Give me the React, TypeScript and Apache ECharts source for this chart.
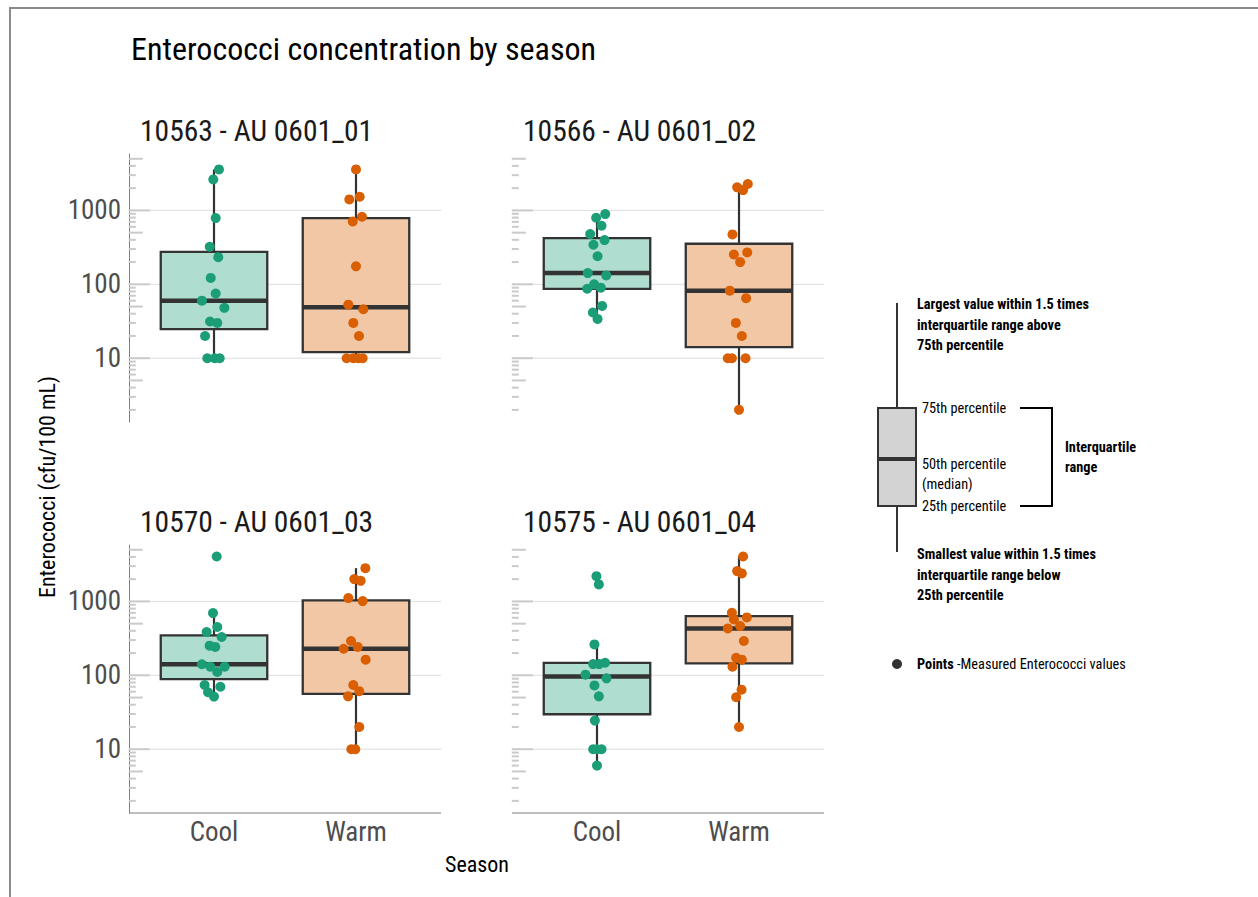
import React, { useEffect, useRef } from 'react';
import * as echarts from 'echarts';

const FONT = "'Roboto Condensed', 'Liberation Sans Narrow', 'DejaVu Sans Condensed', 'Roboto', sans-serif";

const seasons = ['Cool', 'Warm'];
const siteTitles = ['10563 - AU 0601_01', '10566 - AU 0601_02', '10570 - AU 0601_03', '10575 - AU 0601_04'];
const yLabelValues = [10, 100, 1000];
const yMin = 1.37;
const yMax = 5800;

// box stats: [lower whisker, Q1, median, Q3, upper whisker]
const boxSite1Cool = [10, 24.7, 60, 275, 3590];
const boxSite1Warm = [10, 12.05, 49, 787, 3590];
const boxSite2Cool = [34, 87, 142, 422, 892];
const boxSite2Warm = [2, 14.1, 82, 354, 2275];
const boxSite3Cool = [51.5, 89, 141, 347, 695];
const boxSite3Warm = [10, 56, 229, 1030, 2820];
const boxSite4Cool = [6, 29.7, 96, 147, 262];
const boxSite4Warm = [20, 145, 431, 634, 4055];

// measured values and horizontal jitter (category units)
const site1Cool = [3590, 2630, 787, 322, 233, 122, 75, 60, 48, 31.4, 30, 20, 10, 10, 10];
const site1CoolJitter = [0.035, -0.005, 0.012, -0.03, 0.03, -0.023, 0.012, -0.085, 0.073, -0.028, 0.023, -0.063, -0.047, 0.005, 0.04];
const site1Warm = [3590, 1409, 1531, 821, 710, 175, 53, 46, 30, 20, 10, 10, 10, 10];
const site1WarmJitter = [0, -0.047, 0.026, 0.042, -0.023, 0, -0.054, 0.052, -0.019, 0.021, -0.066, -0.019, 0.016, 0.047];

const site2Cool = [892, 795, 620, 478, 397, 343, 240, 142, 132, 100, 87, 90, 51, 41.5, 34];
const site2CoolJitter = [0.058, -0.006, 0.032, -0.048, 0.053, -0.025, 0.004, -0.065, 0.065, -0.02, -0.069, 0.027, 0.036, -0.029, 0.004];
const site2Warm = [2275, 2052, 1884, 473, 253, 270, 200, 82, 65, 30, 20, 10, 10, 10, 2];
const site2WarmJitter = [0.062, -0.013, 0.029, -0.046, -0.036, 0.058, 0.008, -0.065, 0.05, -0.022, 0.02, -0.079, -0.05, 0.046, 0];

const site3Cool = [4055, 695, 450, 385, 330, 252, 242, 141, 131, 131, 111, 74, 70, 59, 51.5];
const site3CoolJitter = [0.019, -0.007, 0.023, -0.052, 0.054, -0.031, 0.009, -0.085, -0.026, 0.075, 0.023, -0.066, 0.045, -0.042, 0];
const site3Warm = [2820, 2004, 1900, 1110, 1010, 291, 229, 242, 163, 74, 61, 52, 20, 10, 10];
const site3WarmJitter = [0.066, -0.012, 0.033, -0.054, 0.047, -0.035, -0.087, 0.012, 0.068, -0.019, 0.023, -0.056, 0.023, -0.033, -0.005];

const site4Cool = [2198, 1698, 262, 142, 142, 148, 102, 91, 73, 52, 24.4, 10, 10, 10, 6];
const site4CoolJitter = [-0.004, 0.013, -0.018, -0.027, 0.015, 0.057, -0.081, 0.067, -0.018, 0.013, -0.015, -0.027, 0, 0.032, 0];
const site4Warm = [4055, 2570, 2390, 703, 571, 608, 431, 464, 291, 173, 163, 131, 64, 50.5, 20];
const site4WarmJitter = [0.029, -0.013, 0.02, -0.05, -0.036, 0.055, -0.079, 0.008, 0.034, -0.02, 0.02, -0.046, 0.018, -0.02, 0];

const pointColors = ['#1b9e77', '#d95f02'];
const boxFills = ['#afddcf', '#f2c7a6'];
const panelExtent = [-0.6, 1.6];

const sites = [
  { boxes: [boxSite1Cool, boxSite1Warm], pts: [[site1Cool, site1CoolJitter], [site1Warm, site1WarmJitter]] },
  { boxes: [boxSite2Cool, boxSite2Warm], pts: [[site2Cool, site2CoolJitter], [site2Warm, site2WarmJitter]] },
  { boxes: [boxSite3Cool, boxSite3Warm], pts: [[site3Cool, site3CoolJitter], [site3Warm, site3WarmJitter]] },
  { boxes: [boxSite4Cool, boxSite4Warm], pts: [[site4Cool, site4CoolJitter], [site4Warm, site4WarmJitter]] },
];

// log tick marks (annotation-style) 1..9 x 10^e
const logTicks: number[][] = [];
for (let e = 0; e <= 3; e++) {
  for (let k = 1; k <= 9; k++) {
    const v = k * Math.pow(10, e);
    if (v >= yMin && v <= yMax) logTicks.push([0, v, k === 1 ? 2 : k === 5 ? 1 : 0]);
  }
}

const grids = [
  { left: 143, top: 154, col: 0, row: 0 },
  { left: 526, top: 154, col: 1, row: 0 },
  { left: 143, top: 545, col: 0, row: 1 },
  { left: 526, top: 545, col: 1, row: 1 },
];

function buildOption() {
  const grid: any[] = [];
  const xAxis: any[] = [];
  const yAxis: any[] = [];
  const series: any[] = [];
  const title: any[] = [
    {
      text: 'Enterococci concentration by season',
      left: 126,
      top: 28,
      textStyle: { fontSize: 32, fontWeight: 'normal', color: '#000', fontFamily: FONT },
    },
  ];

  grids.forEach((g, i) => {
    grid.push({ left: g.left, top: g.top, width: 284, height: 268 });
    title.push({
      text: siteTitles[i],
      left: g.left - 8,
      top: g.top - 43,
      textStyle: { fontSize: 29.5, fontWeight: 'normal', color: '#1a1a1a', fontFamily: FONT },
    });
    xAxis.push({
      type: 'category',
      gridIndex: i,
      data: seasons,
      axisLine: { show: false },
      axisTick: { show: false },
      splitLine: { show: false },
      axisLabel: { show: g.row === 1, fontSize: 27, color: '#4d4d4d', fontFamily: FONT, margin: 5 },
    });
    xAxis.push({
      type: 'value',
      gridIndex: i,
      min: -0.5,
      max: 1.5,
      show: false,
    });
    yAxis.push({
      type: 'log',
      gridIndex: i,
      min: yMin,
      max: yMax,
      offset: 14,
      axisLine: { show: g.col === 0, onZero: false, lineStyle: { color: '#7f7f7f', width: 1 } },
      axisTick: { show: false },
      splitLine: { show: false },
      minorTick: { show: false },
      axisLabel: {
        show: g.col === 0,
        fontSize: 27,
        color: '#4d4d4d',
        fontFamily: FONT,
        margin: 8,
        formatter: (v: number) => {
          const hit = yLabelValues.find((t) => Math.abs(t - v) / t < 1e-6);
          return hit ? String(hit) : '';
        },
      },
    });

    const xi = i * 2 + 1;
    // gridlines
    series.push({
      type: 'custom',
      xAxisIndex: xi,
      yAxisIndex: i,
      silent: true,
      z: 1,
      clip: false,
      data: yLabelValues.map((v) => [0, v]),
      renderItem: (params: any, api: any) => {
        const v = api.value(1);
        const a = api.coord([panelExtent[0], v]);
        const b = api.coord([panelExtent[1], v]);
        return {
          type: 'line',
          shape: { x1: a[0], y1: a[1], x2: b[0], y2: b[1] },
          style: { stroke: '#dedede', lineWidth: 1 },
        };
      },
    });
    // log ticks
    series.push({
      type: 'custom',
      xAxisIndex: xi,
      yAxisIndex: i,
      silent: true,
      z: 2,
      clip: false,
      data: logTicks,
      renderItem: (params: any, api: any) => {
        const v = api.value(1);
        const kind = api.value(2);
        const a = api.coord([panelExtent[0], v]);
        const len = kind === 2 ? 21 : kind === 1 ? 14 : 7;
        return {
          type: 'line',
          shape: { x1: a[0], y1: a[1], x2: a[0] + len, y2: a[1] },
          style: { stroke: '#cacaca', lineWidth: 2 },
        };
      },
    });
    // boxes
    series.push({
      type: 'custom',
      xAxisIndex: xi,
      yAxisIndex: i,
      z: 3,
      silent: true,
      dimensions: ['x', 'low', 'q1', 'med', 'q3', 'high'],
      encode: { x: 'x', y: ['low', 'q1', 'med', 'q3', 'high'] },
      data: sites[i].boxes.map((b, k) => [k, ...b]),
      renderItem: (params: any, api: any) => {
        const x = api.value(0);
        const lo = api.coord([x, api.value(1)]);
        const q1 = api.coord([x, api.value(2)]);
        const md = api.coord([x, api.value(3)]);
        const q3 = api.coord([x, api.value(4)]);
        const hi = api.coord([x, api.value(5)]);
        const half = (api.coord([x + 0.375, api.value(3)])[0] - api.coord([x - 0.375, api.value(3)])[0]) / 2;
        const cx = md[0];
        const stroke = '#333333';
        return {
          type: 'group',
          children: [
            { type: 'line', shape: { x1: cx, y1: q3[1], x2: cx, y2: hi[1] }, style: { stroke, lineWidth: 2.2 } },
            { type: 'line', shape: { x1: cx, y1: q1[1], x2: cx, y2: lo[1] }, style: { stroke, lineWidth: 2.2 } },
            {
              type: 'rect',
              shape: { x: cx - half, y: q3[1], width: half * 2, height: q1[1] - q3[1] },
              style: { fill: boxFills[params.dataIndex], stroke, lineWidth: 2.3 },
            },
            { type: 'line', shape: { x1: cx - half, y1: md[1], x2: cx + half, y2: md[1] }, style: { stroke, lineWidth: 4.5 } },
          ],
        };
      },
    });
    // points
    sites[i].pts.forEach(([vals, jit], k) => {
      series.push({
        type: 'scatter',
        xAxisIndex: xi,
        yAxisIndex: i,
        z: 4,
        silent: true,
        symbolSize: 10,
        itemStyle: { color: pointColors[k], opacity: 1 },
        data: vals.map((v, j) => [k + jit[j], v]),
      });
    });
  });

  const boldFont = `bold 14.3px ${FONT}`;
  const regFont = `14.3px ${FONT}`;
  const txt = (text: string, x: number, y: number, font: string, extra: any = {}) => ({
    type: 'text',
    x,
    y,
    silent: true,
    style: { text, font, fill: '#000', textAlign: 'left', textVerticalAlign: 'middle', ...extra },
  });

  const graphic: any[] = [
    { type: 'rect', shape: { x: 10, y: 8, width: 1400, height: 1000 }, style: { fill: 'none', stroke: '#8a8a8a', lineWidth: 2 }, silent: true },
    { type: 'line', shape: { x1: 129, y1: 813, x2: 441, y2: 813 }, style: { stroke: '#7f7f7f', lineWidth: 1 }, silent: true },
    { type: 'line', shape: { x1: 512, y1: 813, x2: 824, y2: 813 }, style: { stroke: '#7f7f7f', lineWidth: 1 }, silent: true },
    {
      type: 'text',
      x: 47,
      y: 487,
      rotation: Math.PI / 2,
      style: { text: 'Enterococci (cfu/100 mL)', font: `22px ${FONT}`, fill: '#000', textAlign: 'center', textVerticalAlign: 'middle' },
    },
    txt('Season', 477, 864, `22px ${FONT}`, { textAlign: 'center' }),
    // legend glyph
    { type: 'line', shape: { x1: 897, y1: 303, x2: 897, y2: 552 }, style: { stroke: '#333', lineWidth: 2 } },
    { type: 'rect', shape: { x: 878, y: 408, width: 38, height: 98 }, style: { fill: '#d3d3d3', stroke: '#333', lineWidth: 2 } },
    { type: 'line', shape: { x1: 878, y1: 459, x2: 916, y2: 459 }, style: { stroke: '#333', lineWidth: 4 } },
    { type: 'polyline', shape: { points: [[1020, 408], [1052, 408], [1052, 506], [1020, 506]] }, style: { stroke: '#000', lineWidth: 2, fill: 'none' } },
    txt('Largest value within 1.5 times', 917, 304, boldFont),
    txt('interquartile range above', 917, 325, boldFont),
    txt('75th percentile', 917, 345, boldFont),
    txt('75th percentile', 922, 408, regFont),
    txt('50th percentile', 922, 464, regFont),
    txt('(median)', 922, 484, regFont),
    txt('25th percentile', 922, 506, regFont),
    txt('Interquartile', 1065, 447, boldFont),
    txt('range', 1065, 467, boldFont),
    txt('Smallest value within 1.5 times', 917, 554, boldFont),
    txt('interquartile range below', 917, 575, boldFont),
    txt('25th percentile', 917, 595, boldFont),
    { type: 'circle', shape: { cx: 897, cy: 664, r: 5 }, style: { fill: '#333' } },
    txt('Points', 917, 664, boldFont),
    txt('-Measured Enterococci values', 957, 664, regFont),
  ];

  return { animation: false, backgroundColor: '#fff', title, grid, xAxis, yAxis, series, graphic };
}

export default function App() {
  const ref = useRef<HTMLDivElement>(null);
  useEffect(() => {
    if (!ref.current) return;
    const chart = echarts.init(ref.current, undefined, { renderer: 'svg' });
    chart.setOption(buildOption() as any);
    return () => chart.dispose();
  }, []);
  return <div ref={ref} style={{ position: 'fixed', left: 0, top: 0, width: 1258, height: 897 }} />;
}
